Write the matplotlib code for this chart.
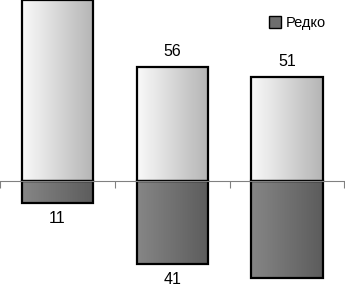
import numpy as np
import matplotlib
matplotlib.use('Agg')
import matplotlib.pyplot as plt
from matplotlib.colors import LinearSegmentedColormap
from matplotlib.patches import Patch

plt.rcParams['font.family'] = ['Liberation Sans', 'DejaVu Sans']

categories = ['A', 'B', 'C']
often = [89, 56, 51]      # верхние светлые столбцы
rarely = [11, 41, 48]     # "Редко", вниз

light = LinearSegmentedColormap.from_list('light', ['#fafafa', '#b4b4b4'])
dark = LinearSegmentedColormap.from_list('dark', ['#868686', '#5c5c5c'])

fig = plt.figure(figsize=(3.45, 2.84), dpi=100)
ax = fig.add_axes([0, 0, 1, 1])
ax.set_xlim(-0.501, 2.505)
ax.set_ylim(-51.0, 89.0)

x = np.arange(len(categories))
w = 0.623
grad = np.linspace(0, 1, 256).reshape(1, -1)

def draw(vals, cmap, sign):
    bars = ax.bar(x, [sign * v for v in vals], width=w, facecolor='none',
                  edgecolor='black', linewidth=1.6, zorder=3)
    for b in bars:
        x0, y0 = b.get_x(), b.get_y()
        im = ax.imshow(grad, cmap=cmap, aspect='auto', zorder=2,
                       extent=(x0, x0 + b.get_width(), y0, y0 + b.get_height()))
        im.set_clip_path(b)
    return bars

draw(often, light, 1)
draw(rarely, dark, -1)

for xi, v in zip(x, often):
    ax.text(xi, v + 4, str(v), ha='center', va='bottom', fontsize=11.5)
for xi, v in zip(x, rarely):
    ax.text(xi, -v - 4, str(v), ha='center', va='top', fontsize=11.5)

for s in ['top', 'right', 'left']:
    ax.spines[s].set_visible(False)
ax.spines['bottom'].set_position(('data', 0))
ax.spines['bottom'].set_color('#808080')
ax.spines['bottom'].set_zorder(4)
ax.set_yticks([])
ax.set_xticks([-0.5, 0.5, 1.5, 2.5])
ax.set_xticklabels([])
ax.tick_params(axis='x', direction='out', length=5, color='#808080')

ax.legend(handles=[Patch(facecolor='#6e6e6e', edgecolor='black', label='Редко')],
          loc='upper right', bbox_to_anchor=(0.982, 0.99), frameon=False,
          fontsize=10.5, handlelength=0.85, handleheight=0.85, handletextpad=0.3)

fig.savefig('out.png', dpi=100)
